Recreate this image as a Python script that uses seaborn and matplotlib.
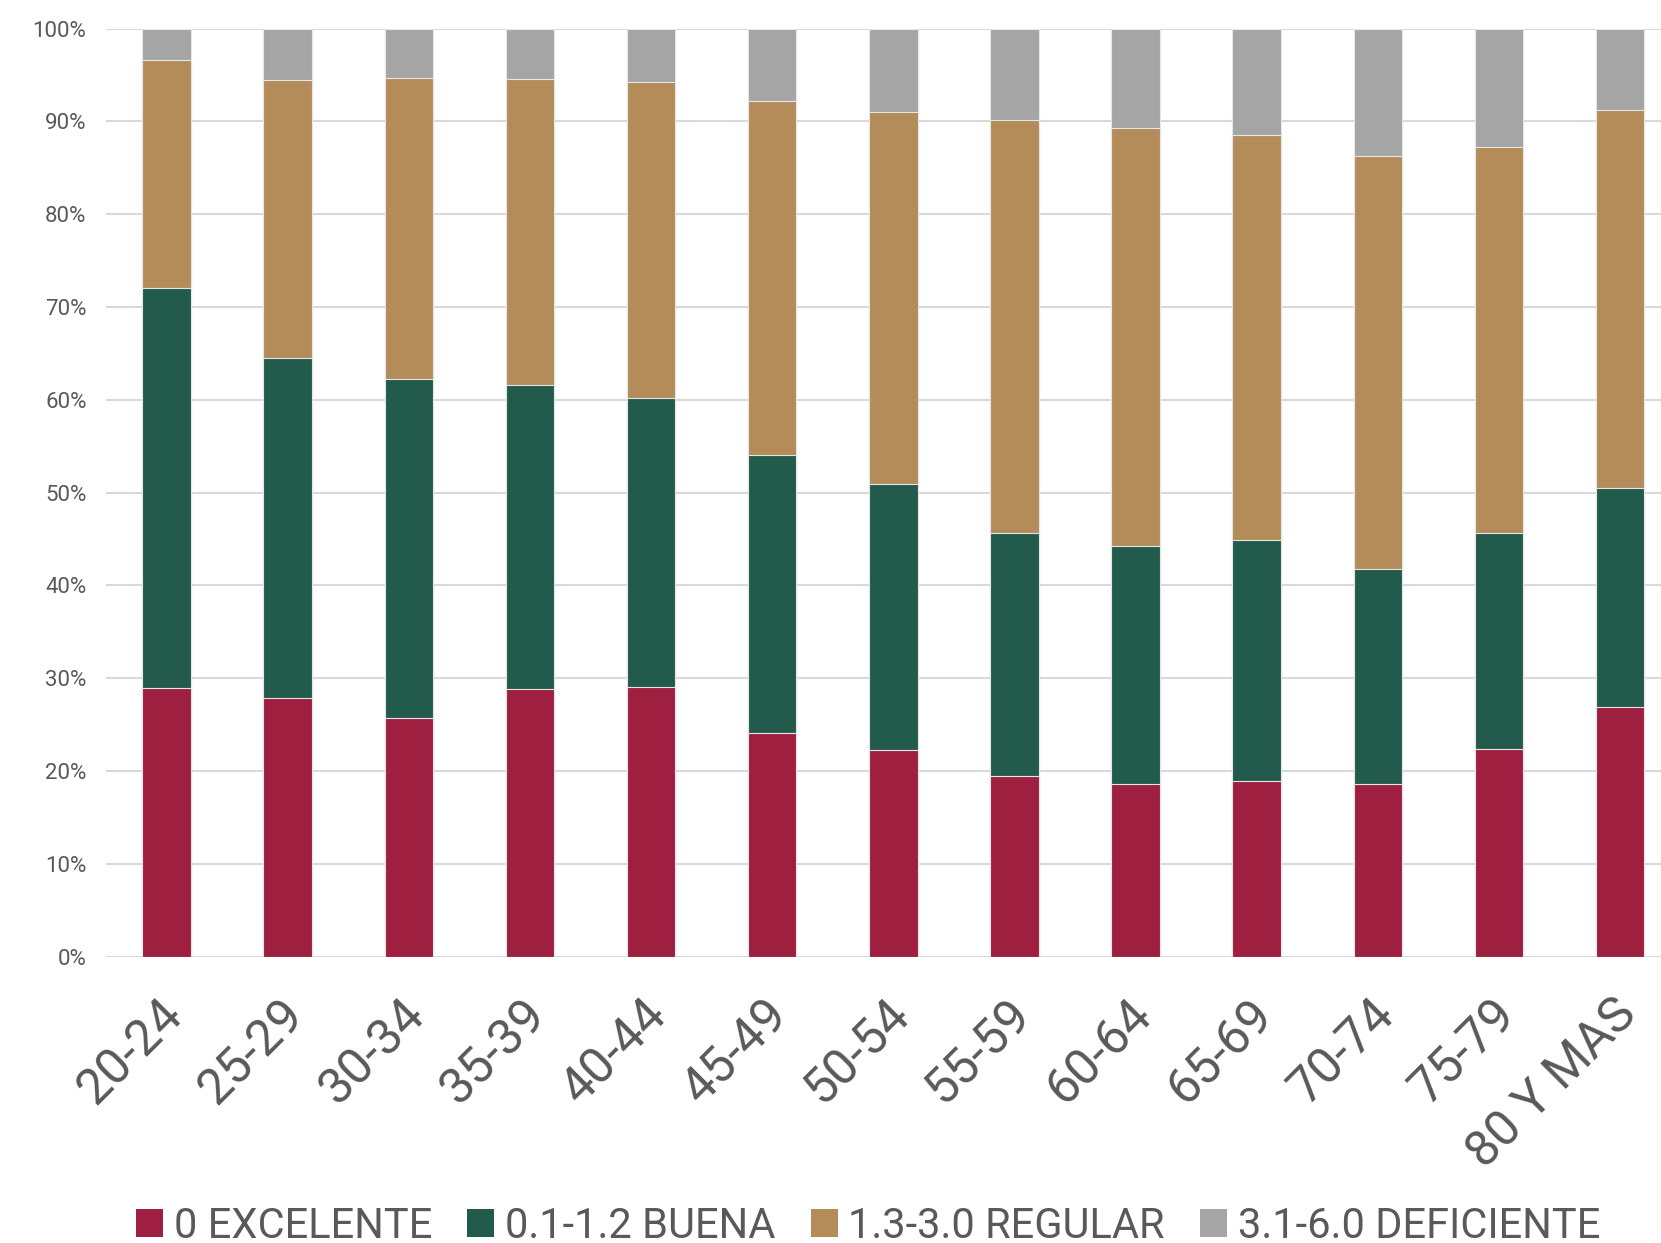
import matplotlib.pyplot as plt
import matplotlib.transforms as mtransforms
import numpy as np
import pandas as pd
import seaborn as sns
from matplotlib.patches import Patch

# Data (percent of each age group)
grupos = ['20-24', '25-29', '30-34', '35-39', '40-44', '45-49', '50-54',
          '55-59', '60-64', '65-69', '70-74', '75-79', '80 Y MAS']
excelente = [28.9, 27.9, 25.7, 28.8, 29.0, 24.1, 22.3, 19.5, 18.6, 18.9, 18.6, 22.4, 26.9]
buena = [43.1, 36.6, 36.5, 32.8, 31.2, 29.9, 28.6, 26.2, 25.6, 26.0, 23.2, 23.3, 23.6]
regular = [24.6, 30.0, 32.5, 33.0, 34.0, 38.2, 40.1, 44.4, 45.1, 43.6, 44.5, 41.5, 40.7]
deficiente = [3.4, 5.5, 5.3, 5.4, 5.8, 7.8, 9.0, 9.9, 10.7, 11.5, 13.7, 12.8, 8.8]

series = ['0 EXCELENTE', '0.1-1.2 BUENA', '1.3-3.0 REGULAR', '3.1-6.0 DEFICIENTE']
colors = ['#9E1F3F', '#225A4C', '#B38C5A', '#A5A5A5']

df = pd.DataFrame({'grupo': grupos, series[0]: excelente, series[1]: buena,
                   series[2]: regular, series[3]: deficiente})
# cumulative tops for stacking
tops = df[series].cumsum(axis=1)

sns.set_style('white')
plt.rcParams['font.family'] = ['Roboto', 'DejaVu Sans']
text_color = '#595959'

fig = plt.figure(figsize=(16.61, 12.43), dpi=100)
ax = fig.add_axes([0.0638, 0.2304, 0.948, 0.7466])

# draw from the top layer down so each bar covers the one below
for name, color in reversed(list(zip(series, colors))):
    sns.barplot(x=df['grupo'], y=tops[name], color=color, width=0.4,
                saturation=1, edgecolor='#E6E6E6', linewidth=0.8, ax=ax,
                zorder=3)

ax.set_ylim(0, 100)
ax.set_xlim(-0.5, 12.5)
ax.set_yticks(np.arange(0, 101, 10))
ax.set_yticklabels([f'{v}%' for v in range(0, 101, 10)])
ax.yaxis.grid(True, color='#D9D9D9', linewidth=1.5, zorder=0)
ax.set_axisbelow(True)
for s in ax.spines.values():
    s.set_visible(False)
ax.set_xlabel('')
ax.set_ylabel('')

ax.tick_params(axis='y', length=0, pad=14, labelsize=16, labelcolor=text_color)
ax.tick_params(axis='x', length=0, pad=36, labelsize=36, labelcolor=text_color)
offset = mtransforms.ScaledTranslation(6 / 72, 0, fig.dpi_scale_trans)
for lbl in ax.get_xticklabels():
    lbl.set_rotation(45)
    lbl.set_ha('right')
    lbl.set_va('center')
    lbl.set_rotation_mode('anchor')
    lbl.set_transform(lbl.get_transform() + offset)

handles = [Patch(facecolor=c, edgecolor='none') for c in colors]
leg = fig.legend(handles, series, loc='upper center', bbox_to_anchor=(0.5226, 0.030),
                 ncol=4, frameon=False, fontsize=30, handlelength=0.65,
                 handleheight=0.65, handletextpad=0.25, columnspacing=0.85,
                 borderpad=0, borderaxespad=0)
for t in leg.get_texts():
    t.set_color(text_color)

fig.savefig('out.png', dpi=100)
